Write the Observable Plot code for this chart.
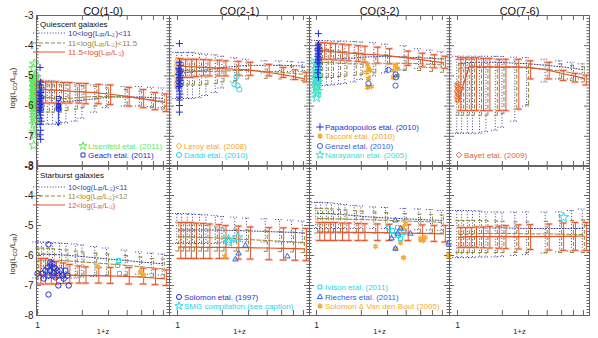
<!DOCTYPE html>
<html><head><meta charset="utf-8">
<script src="https://cdn.jsdelivr.net/npm/d3@7"></script>
<script src="https://cdn.jsdelivr.net/npm/@observablehq/plot@0.6"></script>
<style>
body{margin:0;background:#fff;}
#chart{position:relative;width:598px;height:338px;overflow:hidden;font-family:"Liberation Sans",Arial,sans-serif;}
#chart svg{position:absolute;}
</style></head><body><div id="chart"></div>
<script>
// ---------- model redshift grid (1+z) ----------
const zp1 = [1.02, 1.1, 1.2, 1.3, 1.45, 1.6, 1.85, 2.05, 2.5, 3.0, 4.0, 5.0, 6.0, 7.1];
const yTicks = [-3, -4, -5, -6, -7, -8];
const xTicks = [1, 2, 3, 4, 5, 6, 7];
const titles = ["CO(1-0)", "CO(2-1)", "CO(3-2)", "CO(7-6)"];

// ---------- quiescent (top row): A = 10-11, B = 11-11.5, C = >11.5 ----------
const q10A_med = [-5.9,-5.9,-5.9,-5.88,-5.85,-5.85,-5.82,-5.8,-5.75,-5.7,-5.7,-5.7,-5.72,-5.75];
const q10A_hi  = [-5.15,-5.15,-5.15,-5.15,-5.18,-5.2,-5.22,-5.25,-5.3,-5.3,-5.35,-5.35,-5.38,-5.4];
const q10A_lo  = [-6.6,-6.6,-6.6,-6.6,-6.6,-6.55,-6.5,-6.4,-6.2,-6.05,-6.0,-6.0,-6.02,-6.05];
const q10B_med = [-5.7,-5.7,-5.72,-5.75,-5.75,-5.75,-5.72,-5.7,-5.68,-5.68,-5.7,-5.75,-5.8,-5.85];
const q10B_hi  = [-5.3,-5.3,-5.3,-5.3,-5.3,-5.3,-5.3,-5.32,-5.35,-5.4,-5.45,-5.5,-5.55,-5.6];
const q10B_lo  = [-6.2,-6.2,-6.2,-6.2,-6.2,-6.15,-6.1,-6.05,-6.0,-5.98,-5.98,-6.0,-6.05,-6.1];
const q10C_med = [-5.45,-5.45,-5.46,-5.47,-5.48,-5.5,-5.52,-5.53,-5.56,-5.6,-5.68,-5.75,-5.82,-5.88];
const q10C_hi  = [-5.15,-5.2,-5.2,-5.2,-5.22,-5.22,-5.25,-5.25,-5.28,-5.3,-5.38,-5.45,-5.55,-5.6];
const q10C_lo  = [-5.95,-5.9,-5.9,-5.9,-5.9,-5.9,-5.9,-5.92,-5.92,-5.95,-6.0,-6.05,-6.12,-6.18];

const q21A_med = [-4.9,-4.9,-4.88,-4.85,-4.82,-4.8,-4.75,-4.72,-4.68,-4.65,-4.65,-4.65,-4.66,-4.68];
const q21A_hi  = [-4.22,-4.22,-4.22,-4.22,-4.25,-4.28,-4.3,-4.35,-4.4,-4.45,-4.5,-4.5,-4.52,-4.55];
const q21A_lo  = [-5.75,-5.75,-5.75,-5.75,-5.72,-5.65,-5.55,-5.4,-5.2,-5.0,-4.9,-4.85,-4.85,-4.85];
const q21B_med = [-4.82,-4.82,-4.83,-4.84,-4.85,-4.85,-4.85,-4.84,-4.82,-4.82,-4.85,-4.88,-4.92,-4.95];
const q21B_hi  = [-4.4,-4.42,-4.42,-4.42,-4.45,-4.45,-4.48,-4.5,-4.52,-4.55,-4.6,-4.65,-4.7,-4.72];
const q21B_lo  = [-5.3,-5.3,-5.3,-5.3,-5.3,-5.28,-5.25,-5.2,-5.15,-5.1,-5.08,-5.1,-5.12,-5.15];
const q21C_med = [-4.66,-4.68,-4.7,-4.7,-4.72,-4.72,-4.74,-4.76,-4.78,-4.8,-4.88,-4.95,-5.02,-5.1];
const q21C_hi  = [-4.43,-4.45,-4.45,-4.45,-4.46,-4.47,-4.48,-4.5,-4.52,-4.55,-4.62,-4.72,-4.8,-4.88];
const q21C_lo  = [-5.1,-5.05,-5.05,-5.02,-5.0,-5.0,-5.0,-5.0,-4.98,-4.98,-5.0,-5.05,-5.12,-5.2];

const q32A_med = [-4.45,-4.45,-4.45,-4.44,-4.43,-4.42,-4.4,-4.38,-4.36,-4.35,-4.38,-4.4,-4.42,-4.45];
const q32A_hi  = [-3.83,-3.83,-3.83,-3.84,-3.85,-3.85,-3.86,-3.88,-3.9,-3.95,-4.0,-4.1,-4.15,-4.2];
const q32A_lo  = [-5.32,-5.32,-5.32,-5.3,-5.28,-5.25,-5.2,-5.12,-5.0,-4.9,-4.8,-4.75,-4.72,-4.72];
const q32B_med = [-4.55,-4.55,-4.56,-4.57,-4.58,-4.6,-4.6,-4.6,-4.6,-4.58,-4.58,-4.6,-4.62,-4.64];
const q32B_hi  = [-4.1,-4.1,-4.12,-4.15,-4.18,-4.2,-4.22,-4.25,-4.28,-4.3,-4.35,-4.38,-4.4,-4.42];
const q32B_lo  = [-5.05,-5.05,-5.05,-5.05,-5.02,-5.0,-4.98,-4.95,-4.9,-4.85,-4.82,-4.82,-4.85,-4.88];
const q32C_med = [-4.15,-4.16,-4.18,-4.2,-4.22,-4.24,-4.26,-4.28,-4.3,-4.33,-4.4,-4.46,-4.52,-4.56];
const q32C_hi  = [-3.9,-3.9,-3.92,-3.93,-3.95,-3.97,-4.0,-4.02,-4.05,-4.1,-4.18,-4.25,-4.3,-4.35];
const q32C_lo  = [-4.45,-4.45,-4.45,-4.47,-4.48,-4.5,-4.52,-4.55,-4.58,-4.6,-4.65,-4.7,-4.73,-4.75];

const q76A_med = [-4.6,-4.58,-4.56,-4.55,-4.55,-4.55,-4.55,-4.56,-4.58,-4.6,-4.65,-4.7,-4.75,-4.8];
const q76A_hi  = [-4.35,-4.35,-4.35,-4.35,-4.35,-4.35,-4.35,-4.36,-4.38,-4.4,-4.45,-4.5,-4.55,-4.6];
const q76A_lo  = [-6.9,-6.9,-6.9,-6.9,-6.9,-6.85,-6.8,-6.7,-6.5,-6.0,-5.2,-5.1,-5.1,-5.1];
const q76B_med = [-4.75,-4.73,-4.72,-4.72,-4.72,-4.72,-4.72,-4.72,-4.72,-4.74,-4.78,-4.85,-4.9,-4.95];
const q76B_hi  = [-4.45,-4.45,-4.45,-4.45,-4.45,-4.45,-4.45,-4.45,-4.47,-4.5,-4.55,-4.6,-4.65,-4.7];
const q76B_lo  = [-6.3,-6.3,-6.3,-6.3,-6.3,-6.3,-6.3,-6.25,-6.1,-5.95,-5.1,-5.1,-5.15,-5.2];
const q76C_med = [-5.8,-5.25,-4.68,-4.68,-4.7,-4.7,-4.7,-4.7,-4.7,-4.72,-4.8,-4.92,-5.0,-5.08];
const q76C_hi  = [-4.4,-4.4,-4.4,-4.4,-4.42,-4.42,-4.45,-4.45,-4.45,-4.5,-4.55,-4.82,-4.92,-4.98];
const q76C_lo  = [-6.15,-6.15,-6.15,-6.15,-6.15,-6.15,-6.15,-6.15,-6.1,-5.1,-5.1,-5.15,-5.2,-5.3];

// ---------- starburst (bottom row): A = 10-11, B = 11-12, C = >12 ----------
const s10A_med = [-5.95,-5.95,-5.96,-5.97,-5.98,-6.0,-6.02,-6.04,-6.08,-6.12,-6.17,-6.22,-6.25,-6.28];
const s10A_hi  = [-5.55,-5.55,-5.56,-5.57,-5.58,-5.6,-5.62,-5.65,-5.7,-5.75,-5.82,-5.88,-5.92,-5.95];
const s10A_lo  = [-6.75,-6.75,-6.75,-6.75,-6.75,-6.75,-6.75,-6.72,-6.7,-6.68,-6.65,-6.62,-6.62,-6.65];
const s10B_med = [-6.15,-6.15,-6.15,-6.16,-6.17,-6.18,-6.2,-6.22,-6.25,-6.28,-6.33,-6.38,-6.42,-6.45];
const s10B_hi  = [-5.75,-5.75,-5.76,-5.78,-5.8,-5.82,-5.85,-5.88,-5.92,-5.95,-6.0,-6.05,-6.1,-6.12];
const s10B_lo  = [-6.65,-6.65,-6.65,-6.65,-6.65,-6.65,-6.65,-6.65,-6.65,-6.65,-6.67,-6.7,-6.72,-6.75];
const s10C_med = [-6.65,-6.65,-6.65,-6.65,-6.65,-6.66,-6.66,-6.67,-6.67,-6.68,-6.7,-6.72,-6.75,-6.78];
const s10C_hi  = [-6.1,-6.1,-6.15,-6.2,-6.25,-6.3,-6.35,-6.38,-6.4,-6.4,-6.4,-6.42,-6.45,-6.48];
const s10C_lo  = [-6.95,-6.95,-6.95,-6.95,-6.93,-6.92,-6.92,-6.92,-6.92,-6.93,-6.95,-6.95,-6.97,-7.0];

const s21A_med = [-5.15,-5.15,-5.15,-5.15,-5.15,-5.15,-5.15,-5.16,-5.17,-5.18,-5.2,-5.22,-5.23,-5.25];
const s21A_hi  = [-4.6,-4.6,-4.6,-4.62,-4.63,-4.65,-4.67,-4.7,-4.72,-4.75,-4.78,-4.8,-4.82,-4.85];
const s21A_lo  = [-5.6,-5.6,-5.6,-5.6,-5.6,-5.6,-5.6,-5.58,-5.56,-5.55,-5.55,-5.55,-5.56,-5.58];
const s21B_med = [-5.38,-5.38,-5.38,-5.39,-5.4,-5.4,-5.42,-5.43,-5.45,-5.47,-5.5,-5.53,-5.55,-5.57];
const s21B_hi  = [-4.9,-4.9,-4.92,-4.95,-4.98,-5.0,-5.05,-5.08,-5.12,-5.15,-5.18,-5.2,-5.22,-5.25];
const s21B_lo  = [-5.85,-5.85,-5.85,-5.85,-5.85,-5.85,-5.85,-5.85,-5.85,-5.85,-5.86,-5.87,-5.88,-5.9];
const s21C_med = [-5.72,-5.72,-5.72,-5.72,-5.73,-5.73,-5.73,-5.73,-5.74,-5.74,-5.75,-5.76,-5.77,-5.78];
const s21C_hi  = [-4.9,-4.9,-4.9,-4.92,-4.93,-4.95,-4.97,-5.0,-5.02,-5.05,-5.07,-5.08,-5.1,-5.1];
const s21C_lo  = [-6.1,-6.1,-6.1,-6.1,-6.1,-6.1,-6.1,-6.1,-6.12,-6.12,-6.14,-6.15,-6.16,-6.17];

const s32A_med = [-4.6,-4.6,-4.6,-4.62,-4.63,-4.65,-4.67,-4.7,-4.73,-4.75,-4.78,-4.8,-4.82,-4.83];
const s32A_hi  = [-4.23,-4.23,-4.24,-4.25,-4.27,-4.3,-4.33,-4.35,-4.38,-4.4,-4.43,-4.45,-4.47,-4.5];
const s32A_lo  = [-5.1,-5.1,-5.1,-5.1,-5.1,-5.1,-5.1,-5.1,-5.1,-5.1,-5.12,-5.14,-5.15,-5.16];
const s32B_med = [-4.77,-4.77,-4.77,-4.78,-4.78,-4.79,-4.8,-4.8,-4.82,-4.83,-4.85,-4.87,-4.88,-4.9];
const s32B_hi  = [-4.43,-4.43,-4.44,-4.45,-4.46,-4.48,-4.5,-4.52,-4.55,-4.57,-4.6,-4.62,-4.63,-4.65];
const s32B_lo  = [-5.25,-5.25,-5.25,-5.25,-5.25,-5.25,-5.25,-5.25,-5.25,-5.25,-5.25,-5.25,-5.25,-5.25];
const s32C_med = [-5.22,-5.22,-5.22,-5.22,-5.22,-5.23,-5.23,-5.23,-5.24,-5.24,-5.25,-5.26,-5.27,-5.28];
const s32C_hi  = [-4.9,-4.9,-4.9,-4.9,-4.92,-4.92,-4.93,-4.94,-4.95,-4.96,-4.97,-4.98,-5.0,-5.0];
const s32C_lo  = [-5.5,-5.5,-5.5,-5.5,-5.5,-5.5,-5.5,-5.5,-5.5,-5.5,-5.5,-5.52,-5.53,-5.55];

const s76A_med = [-5.07,-5.07,-5.07,-5.07,-5.08,-5.08,-5.08,-5.08,-5.09,-5.1,-5.1,-5.1,-5.1,-5.1];
const s76A_hi  = [-4.5,-4.5,-4.5,-4.5,-4.52,-4.55,-4.55,-4.55,-4.55,-4.55,-4.55,-4.55,-4.5,-4.45];
const s76A_lo  = [-6.07,-6.07,-6.07,-6.07,-6.05,-6.05,-6.05,-6.03,-6.0,-5.97,-5.92,-5.88,-5.85,-5.85];
const s76B_med = [-5.3,-5.29,-5.28,-5.28,-5.27,-5.27,-5.27,-5.27,-5.27,-5.28,-5.28,-5.29,-5.3,-5.3];
const s76B_hi  = [-4.83,-4.83,-4.83,-4.83,-4.83,-4.84,-4.85,-4.86,-4.88,-4.88,-4.86,-4.85,-4.83,-4.82];
const s76B_lo  = [-5.9,-5.9,-5.9,-5.9,-5.9,-5.9,-5.9,-5.9,-5.9,-5.9,-5.9,-5.9,-5.9,-5.9];
const s76C_med = [-5.4,-5.38,-5.37,-5.37,-5.37,-5.37,-5.37,-5.37,-5.37,-5.37,-5.37,-5.36,-5.36,-5.35];
const s76C_hi  = [-5.07,-5.07,-5.07,-5.05,-5.05,-5.03,-5.02,-5.0,-4.98,-4.97,-4.95,-4.92,-4.9,-4.9];
const s76C_lo  = [-5.73,-5.73,-5.73,-5.73,-5.74,-5.75,-5.76,-5.77,-5.78,-5.8,-5.82,-5.83,-5.83,-5.83];

// ---------- observations ----------
const lisenfeld_x = [0.95,0.94,0.955,0.945,0.96,0.95,0.94,0.955,0.965,0.945,0.95,0.96,0.94,0.955,0.95,0.965,0.945,0.955,0.94,0.96,0.95,0.945,0.955,0.96,0.95,0.945,0.955,0.95,0.96,0.945,0.95,0.955,0.945];
const lisenfeld_y = [-4.6,-4.75,-5.0,-5.05,-5.1,-5.15,-5.2,-5.25,-5.3,-5.35,-5.4,-5.45,-5.5,-5.55,-5.6,-5.65,-5.7,-5.75,-5.8,-5.85,-5.9,-5.95,-6.0,-6.05,-6.1,-6.2,-6.3,-6.4,-6.5,-6.6,-6.85,-6.95,-7.3];
const papa10_x = [1.04,1.05,1.03,1.06,1.04,1.05,1.03,1.04,1.06,1.05,1.04,1.03,1.05,1.04,1.06,1.04,1.05,1.03,1.04,1.05,1.04,1.06,1.04,1.05,1.04,1.05];
const papa10_y = [-4.72,-5.2,-5.3,-5.4,-5.5,-5.55,-5.6,-5.65,-5.7,-5.75,-5.8,-5.85,-5.9,-5.95,-6.0,-6.05,-6.1,-6.15,-6.2,-6.3,-6.4,-6.5,-6.6,-6.8,-6.95,-7.1];
const leroy10_x = [0.99,1.0,0.99,1.01,1.0,0.99];
const leroy10_y = [-5.3,-5.45,-5.6,-5.75,-5.9,-6.05];
const geach_x = [1.38,1.38,1.39,1.38,1.38];
const geach_y = [-5.75,-5.98,-6.02,-6.06,-6.1];
const geachLimit = [{zp1: 1.38, top: -5.8, bottom: -6.65}];

const papa21_x = [1.03,1.03,1.04,1.02,1.03,1.04,1.03,1.02,1.04,1.03,1.03,1.04,1.02,1.03,1.04,1.03,1.02,1.03,1.04,1.03,1.03,1.03,1.03];
const papa21_y = [-3.93,-4.55,-4.65,-4.75,-4.8,-4.85,-4.9,-4.95,-5.0,-5.05,-5.1,-5.15,-5.2,-5.25,-5.3,-5.35,-5.4,-5.5,-5.6,-5.7,-5.8,-5.98,-6.2];
const leroy_x = [0.99,1.0,0.99,1.0,1.01,0.99,1.0,0.99,1.01,1.0,0.99,1.0,1.0];
const leroy_y = [-4.5,-4.58,-4.65,-4.72,-4.8,-4.88,-4.95,-5.02,-5.1,-5.18,-5.25,-5.32,-5.38];
const daddi_x = [2.49,2.41,2.53,2.6];
const daddi_y = [-5.02,-5.28,-5.32,-5.45];

const papa32_x = [1.03,1.03,1.02,1.04,1.03,1.02,1.04,1.03,1.03,1.02,1.04,1.03,1.03,1.02,1.04,1.03,1.03,1.02,1.03];
const papa32_y = [-3.6,-3.95,-4.0,-4.05,-4.1,-4.15,-4.2,-4.25,-4.3,-4.35,-4.4,-4.45,-4.5,-4.55,-4.6,-4.7,-4.8,-4.9,-5.05];
const nara_x = [1.0,0.99,1.02,1.0,1.01,0.99,1.02,1.0,1.01,0.99,1.02,1.0,1.01,0.99,1.0,1.02,1.0,1.0];
const nara_y = [-4.5,-4.6,-4.7,-4.78,-4.85,-4.92,-5.0,-5.05,-5.1,-5.15,-5.2,-5.25,-5.3,-5.35,-5.42,-5.5,-5.6,-5.72];
const tacconi_x = [2.2,2.23,2.17,2.3,2.23,2.2,2.34,3.39,3.28,3.5,3.28,3.5];
const tacconi_y = [-4.62,-4.76,-4.88,-4.82,-5.09,-5.38,-5.35,-4.66,-4.82,-4.99,-5.05,-4.76];
const genzel_x = [2.23,3.04,3.39,3.4,3.42];
const genzel_y = [-5.25,-4.8,-5.32,-4.95,-5.05];

const bayet_x = [1.0,0.99,1.0,1.01,0.99,1.0,1.01,0.99,1.0,1.0];
const bayet_y = [-5.25,-5.32,-5.38,-5.45,-5.5,-5.55,-5.62,-5.68,-5.75,-5.82];

const solomon_x = [1.185,1.0,1.08,1.1,1.17,1.22,1.26,1.28,1.22,1.28,1.36,1.38,1.47,1.32,1.26,1.43,1.54,1.59,1.185,1.13,1.38,1.62,1.185,1.32,1.5,1.22];
const solomon_y = [-5.63,-6.6,-6.6,-6.77,-6.4,-6.33,-6.27,-6.4,-6.5,-6.57,-6.5,-6.67,-6.67,-6.73,-6.67,-6.5,-6.5,-6.67,-6.67,-6.5,-7.0,-7.0,-7.3,-6.43,-6.77,-6.23];
const ivison10_x = [3.5,3.45,3.55];
const ivison10_y = [-6.17,-6.33,-6.6];
const svdb10_x = [2.53,4.9,5.15];
const svdb10_y = [-6.37,-6.55,-6.65];

const smg21_x = [2.2,2.53,2.2];
const smg21_y = [-5.47,-5.4,-5.55];
const riechers21_x = [2.45,2.57,2.86,5.46];
const riechers21_y = [-6.13,-5.93,-5.67,-6.03];
const svdb21_x = [2.07];
const svdb21_y = [-6.03];

const riechers32_x = [3.39,3.19,3.5,3.66,4.27,3.39,7.68];
const riechers32_y = [-4.83,-5.43,-5.27,-5.1,-5.27,-5.77,-5.6];
const ivison32_x = [3.04,3.23,3.5,3.55,3.66,3.28,3.84];
const ivison32_y = [-5.07,-5.17,-5.07,-5.33,-5.43,-5.33,-5.23];
const svdb32_x = [2.49,3.39,3.84,3.95,4.98,5.2,5.37,3.66,3.78,7.68];
const svdb32_y = [-5.7,-5.77,-6.07,-4.93,-5.43,-5.5,-5.4,-5.57,-5.07,-6.0];

const smg76_x = [5.15];
const smg76_y = [-4.73];

// ---------- styling / layout ----------
const FONT = "Liberation Sans, Arial, sans-serif";
const colA = "#3c3c98", colB = "#8f883a", colC = "#e2552d", capPink = "#f8c4b6";
const C = {blue:"#1f2fd6", green:"#5fe85f", orange:"#f5a623", cyan:"#22d8ee", genzel:"#2f60e0", aqua:"#3ee0c4", bayet:"#e06a2a", riech:"#2f62f0", svdb:"#f5ac2e", ler10:"#e8843a"};
const cols = [{l:36, r:169, one:37}, {l:169, r:309, one:177}, {l:309, r:449, one:316}, {l:449, r:589, one:457}];
const rowsL = [{t:15, b:166}, {t:165, b:315}];
const DEC = 149; // px per decade

const container = document.getElementById("chart");
const pts = (xs, ys) => xs.map((x, i) => ({x, y: ys[i]}));

function seriesMarks(med, lo, hi, kind) {
  const rows = zp1.map((x, i) => ({x, med: med[i], lo: lo[i], hi: hi[i]}));
  const st = kind === "A" ? {stroke: colA, strokeDasharray: "1,1.8", dx: -2, cap: 4}
           : kind === "B" ? {stroke: colB, strokeDasharray: "4,2", dx: 0, cap: 3}
           : {stroke: colC, strokeDasharray: null, dx: 2, cap: 3};
  const base = {stroke: st.stroke, strokeDasharray: st.strokeDasharray, dx: st.dx};
  const m = [];
  if (kind === "C") {
    m.push(Plot.ruleY(rows, {y: "hi", x1: "x", x2: "x", insetLeft: -4, insetRight: -4, stroke: capPink, strokeWidth: 2.5, dx: st.dx}));
    m.push(Plot.ruleY(rows, {y: "lo", x1: "x", x2: "x", insetLeft: -4, insetRight: -4, stroke: capPink, strokeWidth: 2.5, dx: st.dx}));
  }
  m.push(Plot.ruleX(rows, {x: "x", y1: "lo", y2: "hi", ...base, strokeWidth: 1}));
  m.push(Plot.ruleY(rows, {y: "hi", x1: "x", x2: "x", insetLeft: -st.cap, insetRight: -st.cap, ...base}));
  m.push(Plot.ruleY(rows, {y: "lo", x1: "x", x2: "x", insetLeft: -st.cap, insetRight: -st.cap, ...base}));
  m.push(Plot.line(rows, {x: "x", y: "med", stroke: st.stroke, strokeDasharray: st.strokeDasharray, strokeWidth: kind === "C" ? 1.2 : 1}));
  return m;
}

function obsDots(xs, ys, symbol, color, r = 2.6, sw = 1) {
  return Plot.dot(pts(xs, ys), {x: "x", y: "y", symbol, stroke: color, fill: "none", r, strokeWidth: sw});
}

const panels = [
  {c:0, r:0, s:[[q10A_med,q10A_lo,q10A_hi],[q10B_med,q10B_lo,q10B_hi],[q10C_med,q10C_lo,q10C_hi]],
   obs:[obsDots(lisenfeld_x, lisenfeld_y, "star", C.green, 3), obsDots(leroy10_x, leroy10_y, "diamond2", C.ler10, 2.4), obsDots(papa10_x, papa10_y, "plus", C.blue, 2.4), obsDots(geach_x, geach_y, "square2", C.blue, 2.6),
        Plot.arrow(geachLimit, {x1:"zp1", y1:"top", x2:"zp1", y2:"bottom", stroke: C.blue, headLength: 7, strokeWidth: 1})]},
  {c:1, r:0, s:[[q21A_med,q21A_lo,q21A_hi],[q21B_med,q21B_lo,q21B_hi],[q21C_med,q21C_lo,q21C_hi]],
   obs:[obsDots(leroy_x, leroy_y, "diamond2", C.orange, 2.4), obsDots(papa21_x, papa21_y, "plus", C.blue, 2.4), obsDots(daddi_x, daddi_y, "circle", C.cyan, 2.6)]},
  {c:2, r:0, s:[[q32A_med,q32A_lo,q32A_hi],[q32B_med,q32B_lo,q32B_hi],[q32C_med,q32C_lo,q32C_hi]],
   obs:[obsDots(nara_x, nara_y, "star", C.aqua, 3), obsDots(papa32_x, papa32_y, "plus", C.blue, 2.4), obsDots(tacconi_x, tacconi_y, "asterisk", C.orange, 2.6, 1.6), obsDots(genzel_x, genzel_y, "circle", C.genzel, 2.6)]},
  {c:3, r:0, s:[[q76A_med,q76A_lo,q76A_hi],[q76B_med,q76B_lo,q76B_hi],[q76C_med,q76C_lo,q76C_hi]],
   obs:[obsDots(bayet_x, bayet_y, "diamond2", C.bayet, 2.4)]},
  {c:0, r:1, s:[[s10A_med,s10A_lo,s10A_hi],[s10B_med,s10B_lo,s10B_hi],[s10C_med,s10C_lo,s10C_hi]],
   obs:[obsDots(solomon_x, solomon_y, "circle", C.blue, 2.7), obsDots(ivison10_x, ivison10_y, "square2", C.cyan, 2.6), obsDots(svdb10_x, svdb10_y, "asterisk", C.svdb, 2.6, 1.6)]},
  {c:1, r:1, s:[[s21A_med,s21A_lo,s21A_hi],[s21B_med,s21B_lo,s21B_hi],[s21C_med,s21C_lo,s21C_hi]],
   obs:[obsDots(smg21_x, smg21_y, "star", C.cyan, 3.2), obsDots(riechers21_x, riechers21_y, "triangle2", C.riech, 2.6), obsDots(svdb21_x, svdb21_y, "asterisk", C.svdb, 2.6, 1.6)]},
  {c:2, r:1, s:[[s32A_med,s32A_lo,s32A_hi],[s32B_med,s32B_lo,s32B_hi],[s32C_med,s32C_lo,s32C_hi]],
   obs:[obsDots(svdb32_x, svdb32_y, "asterisk", C.svdb, 2.6, 1.6), obsDots(ivison32_x, ivison32_y, "square2", C.cyan, 2.6), obsDots(riechers32_x, riechers32_y, "triangle2", C.riech, 2.6)]},
  {c:3, r:1, s:[[s76A_med,s76A_lo,s76A_hi],[s76B_med,s76B_lo,s76B_hi],[s76C_med,s76C_lo,s76C_hi]],
   obs:[obsDots(smg76_x, smg76_y, "star", C.cyan, 3.2)]}
];

const yMinor = d3.range(1, 50).filter(i => i % 10 !== 0).map(i => -8 + i * 0.1);
const frameCol = "#666";

for (const p of panels) {
  const c = cols[p.c], rw = rowsL[p.r];
  const w = c.r - c.l, h = rw.b - rw.t;
  const d0 = Math.pow(10, (c.l - c.one) / DEC), d1 = Math.pow(10, (c.r - c.one) / DEC);
  const marks = [];
  // inward ticks
  marks.push(Plot.ruleY(yTicks, {y: d => d, x1: d0, x2: d0, insetRight: -5, stroke: frameCol}));
  marks.push(Plot.ruleY(yTicks, {y: d => d, x1: d1, x2: d1, insetLeft: -5, stroke: frameCol}));
  marks.push(Plot.ruleY(yMinor, {y: d => d, x1: d0, x2: d0, insetRight: -2.5, stroke: frameCol}));
  marks.push(Plot.ruleY(yMinor, {y: d => d, x1: d1, x2: d1, insetLeft: -2.5, stroke: frameCol}));
  marks.push(Plot.ruleX(xTicks, {x: d => d, y1: -3, y2: -3, insetBottom: -5, stroke: frameCol}));
  marks.push(Plot.ruleX(xTicks, {x: d => d, y1: -8, y2: -8, insetTop: -5, stroke: frameCol}));
  // models
  p.s.forEach((s, k) => marks.push(...seriesMarks(s[0], s[1], s[2], ["A","B","C"][k])));
  // observations
  marks.push(...p.obs);
  marks.push(Plot.frame({stroke: frameCol}));
  // labels
  if (p.c === 0) marks.push(Plot.text(yTicks, {x: d0, y: d => d, text: d => String(d), textAnchor: "end", dx: -3, fontSize: 10, fill: "#222"}));
  if (p.r === 0) marks.push(Plot.text([titles[p.c]], {frameAnchor: "top", dy: -8, fontSize: 11, fill: "#111"}));
  if (p.r === 1) {
    marks.push(Plot.text(["1"], {x: 1, y: -8, dy: 10, fontSize: 8.5, fill: "#222"}));
    marks.push(Plot.text(["1+z"], {frameAnchor: "bottom", dy: 18, fontSize: 7.5, fill: "#222"}));
  }
  const svg = Plot.plot({
    width: w, height: h, margin: 0,
    x: {type: "log", domain: [d0, d1], axis: null},
    y: {domain: [-8, -3], axis: null},
    style: {background: "transparent", overflow: "visible", fontFamily: FONT},
    marks
  });
  svg.style.left = c.l + "px";
  svg.style.top = rw.t + "px";
  container.appendChild(svg);
}

// ---------- overlay: legends and axis titles ----------
const ov = d3.create("svg").attr("width", 598).attr("height", 338)
  .style("left", "0px").style("top", "0px").style("overflow", "visible")
  .attr("font-family", FONT);
container.appendChild(ov.node());

function rich(x, y, parts, size, color, anchor = "start", transform = null) {
  const t = ov.append("text").attr("x", x).attr("y", y).attr("font-size", size).attr("fill", color).attr("text-anchor", anchor);
  if (transform) t.attr("transform", transform);
  let shifted = false;
  for (const p of parts) {
    if (typeof p === "string") { t.append("tspan").attr("dy", shifted ? -1.6 : 0).text(p); shifted = false; }
    else { t.append("tspan").attr("dy", shifted ? 0 : 1.6).attr("font-size", size * 0.68).text(p.sub); shifted = true; }
  }
  return t;
}
const LIR = (pre, post) => [pre + "log(L", {sub: "IR"}, "/L", {sub: "☉"}, ")" + post];

// y titles
rich(0, 0, ["log(L", {sub: "CO"}, "/L", {sub: "IR"}, ")"], 8, "#222", "middle", "translate(15,88) rotate(-90)");
rich(0, 0, ["log(L", {sub: "CO"}, "/L", {sub: "IR"}, ")"], 8, "#222", "middle", "translate(15,254) rotate(-90)");

function modelLegend(title, ty, rowsY, labels, size) {
  ov.append("text").attr("x", 40).attr("y", ty).attr("font-size", 8).attr("fill", "#111").text(title);
  const sty = [[colA, "1,1.8"], [colB, "4,2"], [colC, null]];
  rowsY.forEach((y, i) => {
    const l = ov.append("line").attr("x1", 33).attr("x2", 65).attr("y1", y).attr("y2", y).attr("stroke", sty[i][0]).attr("stroke-width", 1);
    if (sty[i][1]) l.attr("stroke-dasharray", sty[i][1]);
    rich(68, y + size * 0.35, labels[i], size, sty[i][0]);
  });
}
modelLegend("Quiescent galaxies", 27, [33, 43, 52], [LIR("10<", "<11"), LIR("11<", "<11.5"), LIR("11.5<", "")], 8);
modelLegend("Starburst galaxies", 178, [187, 196, 205], [LIR("10<", "<11"), LIR("11<", "<12"), LIR("12<", "")], 7.5);

const symMap = {star: d3.symbolStar, square: d3.symbolSquare2, diamond: d3.symbolDiamond2, circle: d3.symbolCircle, plus: d3.symbolPlus, asterisk: d3.symbolAsterisk, triangle: d3.symbolTriangle2};
function obsLegend(x, y, sym, color, label) {
  ov.append("path").attr("d", d3.symbol(symMap[sym], 20)()).attr("transform", `translate(${x},${y})`)
    .attr("fill", "none").attr("stroke", color).attr("stroke-width", sym === "asterisk" ? 1.5 : 1);
  ov.append("text").attr("x", x + 5).attr("y", y + 3).attr("font-size", 8).attr("fill", color).text(label);
}
obsLegend(83, 146, "star", C.green, "Lisenfeld etal. (2011)");
obsLegend(83, 155, "square", C.blue, "Geach etal. (2011)");
obsLegend(179, 146, "diamond", C.orange, "Leroy etal. (2008)");
obsLegend(179, 155, "circle", C.cyan, "Daddi etal. (2010)");
obsLegend(320, 127, "plus", C.blue, "Papadopoulos etal. (2010)");
obsLegend(320, 136, "asterisk", C.orange, "Tacconi etal. (2010)");
obsLegend(320, 146, "circle", C.genzel, "Genzel etal. (2010)");
obsLegend(320, 155, "star", C.aqua, "Narayanan etal. (2005)");
obsLegend(459, 155, "diamond", C.bayet, "Bayet etal. (2009)");
obsLegend(179, 297, "circle", C.blue, "Solomon etal. (1997)");
obsLegend(179, 306, "star", C.cyan, "SMG compilation (see caption)");
obsLegend(320, 287, "square", C.cyan, "Ivison etal. (2011)");
obsLegend(320, 297, "triangle", C.riech, "Riechers etal. (2011)");
obsLegend(320, 306, "asterisk", C.svdb, "Solomon & Van den Bout (2005)");
</script>
</body></html>
